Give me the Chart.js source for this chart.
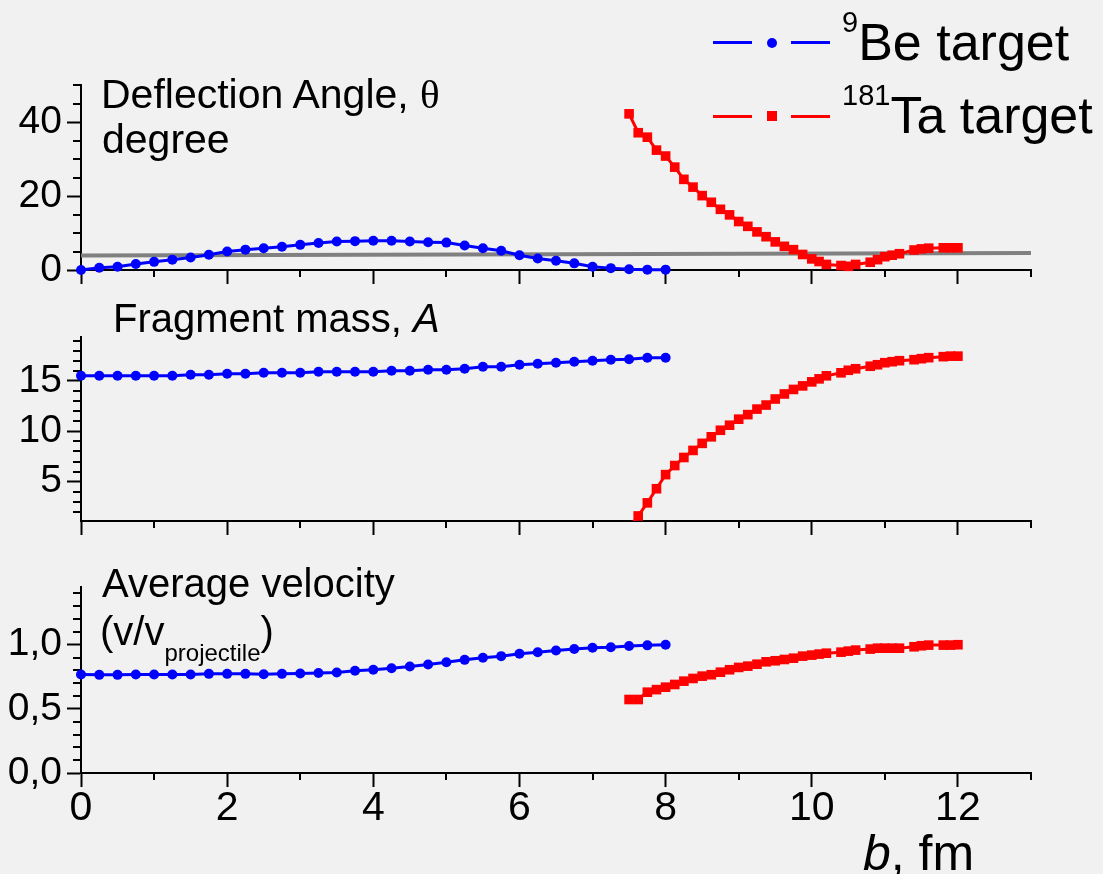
<!DOCTYPE html>
<html>
<head>
<meta charset="utf-8">
<title>Deflection angle, fragment mass and velocity vs b</title>
<script src="https://cdn.jsdelivr.net/npm/chart.js@4.4.1/dist/chart.umd.min.js"></script>
<style>
  html, body { margin: 0; padding: 0; background: #f1f1f1; }
  #wrap { position: relative; width: 1103px; height: 874px; overflow: hidden;
          font-family: 'Liberation Sans', Arial, sans-serif; color: #000; }
  canvas { position: absolute; left: 0; }
  .txt { position: absolute; white-space: nowrap; font-size: 40px; line-height: 40px; }
  .serif { font-family: 'Liberation Serif', 'Times New Roman', serif; }
  .sub { font-size: 24px; position: relative; top: 16px; }
  .leg { position: absolute; white-space: nowrap; font-size: 52px; line-height: 52px; left: 842px; }
  .leg .sup { font-size: 29px; position: relative; top: -28px; }
  .seg { position: absolute; height: 3px; width: 39px; }
</style>
</head>
<body>
<div id="wrap">
  <canvas id="cTheta" width="1103" height="290" style="top:0"></canvas>
  <canvas id="cMass" width="1103" height="250" style="top:290px"></canvas>
  <canvas id="cVel" width="1103" height="334" style="top:540px"></canvas>

  <div class="txt" style="left:101px; top:74px; font-size:41px">Deflection Angle, <span class="serif">&theta;</span></div>
  <div class="txt" style="left:102px; top:119px; font-size:41px">degree</div>
  <div class="txt" style="left:113px; top:298px">Fragment mass, <i>A</i></div>
  <div class="txt" style="left:102px; top:563px">Average velocity</div>
  <div class="txt" style="left:100px; top:611px">(v/v<span class="sub">projectile</span>)</div>
  <div class="txt" style="left:863px; top:828px; font-size:50px; line-height:50px"><i>b</i>, fm</div>

  <!-- legend -->
  <div class="seg" style="left:713px; top:41px; background:#0000ff"></div>
  <div style="position:absolute; left:767px; top:38px; width:10px; height:10px; border-radius:50%; background:#0000ff"></div>
  <div class="seg" style="left:791px; top:41px; background:#0000ff"></div>
  <div class="leg" style="top:16px"><span class="sup">9</span>Be target</div>

  <div class="seg" style="left:713px; top:115px; background:#ff0000"></div>
  <div style="position:absolute; left:767px; top:111px; width:10px; height:10px; background:#ff0000"></div>
  <div class="seg" style="left:791px; top:115px; background:#ff0000"></div>
  <div class="leg" style="top:89px"><span class="sup">181</span>Ta target</div>
</div>

<script>
// impact parameter b (fm)
const beX = [0, 0.25, 0.5, 0.75, 1, 1.25, 1.5, 1.75, 2, 2.25, 2.5, 2.75, 3, 3.25, 3.5, 3.75, 4,
             4.25, 4.5, 4.75, 5, 5.25, 5.5, 5.75, 6, 6.25, 6.5, 6.75, 7, 7.25, 7.5, 7.75, 8];
const taX = [7.5, 7.625, 7.75, 7.875, 8, 8.125, 8.25, 8.375, 8.5, 8.625, 8.75, 8.875, 9, 9.125,
             9.25, 9.375, 9.5, 9.625, 9.75, 9.875, 10, 10.1, 10.2, 10.4, 10.5, 10.6, 10.8, 10.9,
             11, 11.1, 11.2, 11.4, 11.5, 11.6, 11.8, 11.9, 12];

// deflection angle, degree
const beTheta = [0, 0.6, 0.9, 1.6, 2.2, 2.8, 3.4, 4.1, 5.0, 5.5, 5.9, 6.3, 6.8, 7.3, 7.7, 7.8, 7.9,
                 7.9, 7.7, 7.5, 7.4, 6.6, 5.9, 5.2, 4.0, 3.1, 2.5, 1.8, 0.9, 0.5, 0.2, 0.1, 0.1];
const taTheta = [42.2, 37.1, 35.9, 32.4, 30.8, 27.8, 24.5, 22.4, 20.1, 18.3, 16.4, 14.9, 13.1, 11.8,
                 10.3, 9.0, 7.6, 6.4, 5.5, 4.2, 3.0, 2.3, 1.5, 1.2, 1.0, 1.5, 2.1, 2.8,
                 3.6, 4.0, 4.4, 5.4, 5.7, 5.9, 6.0, 6.0, 6.0];
// grey reference line in the top panel
const refX = [0, 13];
const refY = [3.9, 4.6];

// fragment mass A
const beMass = [15.5, 15.5, 15.5, 15.5, 15.5, 15.5, 15.6, 15.6, 15.7, 15.7, 15.8, 15.8, 15.8, 15.9,
                15.9, 15.9, 15.9, 16.0, 16.0, 16.1, 16.1, 16.2, 16.4, 16.4, 16.6, 16.7, 16.8, 16.9,
                17.0, 17.1, 17.15, 17.3, 17.3];
const taMass = [0.4, 1.6, 2.9, 4.3, 5.7, 6.6, 7.4, 8.1, 8.8, 9.45, 10.1, 10.6, 11.2, 11.65,
                12.2, 12.6, 13.2, 13.7, 14.15, 14.5, 14.9, 15.2, 15.5, 15.8, 16.05, 16.2, 16.45, 16.6,
                16.8, 16.9, 17.0, 17.1, 17.2, 17.3, 17.4, 17.45, 17.45];

// average velocity v/v_projectile
const beVel = [0.768, 0.765, 0.765, 0.768, 0.768, 0.768, 0.768, 0.773, 0.773, 0.773, 0.770, 0.773,
               0.776, 0.780, 0.784, 0.797, 0.805, 0.817, 0.830, 0.846, 0.864, 0.882, 0.898, 0.911,
               0.930, 0.942, 0.955, 0.966, 0.976, 0.981, 0.990, 0.995, 1.0];
const taVel = [0.573, 0.573, 0.63, 0.65, 0.669, 0.69, 0.716, 0.737, 0.755, 0.766, 0.786, 0.805,
               0.823, 0.833, 0.848, 0.867, 0.875, 0.885, 0.895, 0.911, 0.919, 0.927, 0.934, 0.942,
               0.95, 0.958, 0.966, 0.973, 0.973, 0.973, 0.973, 0.984, 0.992, 0.997, 0.997, 0.997, 1.0];

const FONT = "'Liberation Sans', Arial, sans-serif";
const BLUE = '#0000ff';
const RED = '#ff0000';

const pts = (xs, ys) => xs.map((x, i) => ({ x: x, y: ys[i] }));

function beSet(ys) {
  return { data: pts(beX, ys), borderColor: BLUE, borderWidth: 3, backgroundColor: BLUE,
           pointStyle: 'circle', pointRadius: 5, pointBorderWidth: 0, pointBackgroundColor: BLUE,
           clip: false };
}
function taSet(ys, clip) {
  return { data: pts(taX, ys), borderColor: RED, borderWidth: 3, backgroundColor: RED,
           pointStyle: 'rect', pointRadius: 6.8, pointBorderWidth: 0, pointBackgroundColor: RED,
           clip: clip || false };
}

// short ticks between the labelled ones
const minorTicks = {
  id: 'minorTicks',
  beforeDatasetsDraw(chart, args, opts) {
    const ctx = chart.ctx;
    const x = chart.scales.x, y = chart.scales.y;
    ctx.save();
    ctx.strokeStyle = '#000';
    ctx.lineWidth = 2;
    ctx.beginPath();
    x.ticks.forEach(t => {
      if (opts.xMajor(t.value)) return;
      const px = Math.round(x.getPixelForValue(t.value));
      ctx.moveTo(px, x.top);
      ctx.lineTo(px, x.top + 7);
    });
    y.ticks.forEach(t => {
      if (opts.yMajor(t.value)) return;
      const py = Math.round(y.getPixelForValue(t.value));
      ctx.moveTo(y.right - 8, py);
      ctx.lineTo(y.right, py);
    });
    ctx.stroke();
    ctx.restore();
  }
};

const xMajor = v => v % 2 === 0 && v <= 12;

function panel(id, p) {
  return new Chart(document.getElementById(id), {
    type: 'line',
    data: { datasets: p.sets },
    options: {
      responsive: false,
      animation: false,
      devicePixelRatio: 1,
      events: [],
      layout: { padding: { top: p.padTop, right: 72, left: 0, bottom: 0 } },
      plugins: {
        legend: { display: false },
        tooltip: { enabled: false },
        minorTicks: { xMajor: xMajor, yMajor: p.yMajor }
      },
      scales: {
        x: {
          type: 'linear', min: 0, max: 13,
          border: { color: '#000', width: 2 },
          grid: { drawOnChartArea: false, tickLength: 14, tickWidth: 2,
                  tickColor: c => (c.tick && xMajor(c.tick.value)) ? '#000' : 'rgba(0,0,0,0)' },
          ticks: { display: p.showX, stepSize: 1, autoSkip: false, maxRotation: 0, padding: 1,
                   color: '#000', font: { family: FONT, size: 41, lineHeight: 1 },
                   callback: v => xMajor(v) ? String(v) : '' },
          afterFit: s => { s.height = p.xAxisH; s.paddingLeft = 0; s.paddingRight = 0; }
        },
        y: {
          type: 'linear', min: p.yMin, max: p.yMax,
          border: { color: '#000', width: 2 },
          grid: { drawOnChartArea: false, tickLength: 14, tickWidth: 2,
                  tickColor: c => (c.tick && p.yMajor(c.tick.value)) ? '#000' : 'rgba(0,0,0,0)' },
          ticks: { stepSize: p.yStep, includeBounds: false, autoSkip: false, padding: 5,
                   color: '#000', font: { family: FONT, size: 39 },
                   callback: v => p.yMajor(v) ? p.fmt(v) : '' },
          afterFit: s => { s.width = 81; s.paddingTop = 0; s.paddingBottom = 0; }
        }
      }
    },
    plugins: [minorTicks]
  });
}

panel('cTheta', {
  padTop: 85, xAxisH: 20, showX: false,
  yMin: 0, yMax: 50, yStep: 5,
  yMajor: v => v % 20 === 0,
  fmt: v => String(v),
  sets: [
    beSet(beTheta),
    taSet(taTheta),
    { data: pts(refX, refY), borderColor: '#808080', borderWidth: 4, pointRadius: 0, clip: false }
  ]
});

panel('cMass', {
  padTop: 47, xAxisH: 19, showX: false,
  yMin: 1.1, yMax: 19.35, yStep: 1,
  yMajor: v => v % 5 === 0,
  fmt: v => String(v),
  sets: [
    beSet(beMass),
    taSet(taMass, { left: false, top: false, right: false, bottom: 0 })
  ]
});

panel('cVel', {
  padTop: 47, xAxisH: 101, showX: true,
  yMin: 0, yMax: 1.45, yStep: 0.1,
  yMajor: v => Math.abs(v * 2 - Math.round(v * 2)) < 1e-6,
  fmt: v => v.toFixed(1).replace('.', ','),
  sets: [
    beSet(beVel),
    taSet(taVel)
  ]
});
</script>
</body>
</html>
